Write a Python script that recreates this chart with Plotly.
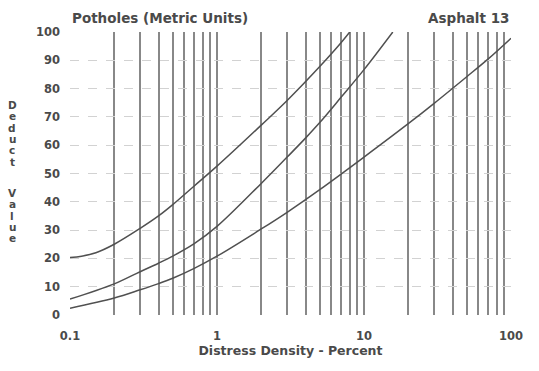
import plotly.graph_objects as go

# Data
h_x = [0.1, 0.12, 0.15, 0.2, 0.3, 0.4, 0.5, 0.7, 1, 2, 3, 5, 7, 8]
h_y = [20.3, 20.8, 22, 25, 30.6, 35, 39, 45.6, 52.6, 67.1, 75.8, 87.8, 96.3, 100]
m_x = [0.1, 0.2, 0.3, 0.4, 0.5, 0.7, 1, 2, 3, 4, 5, 7, 10, 15.7]
m_y = [5.6, 11, 15.3, 18.3, 20.8, 25.2, 31.3, 46.5, 55.8, 62.5, 68, 77, 86.7, 100]
l_x = [0.1, 0.2, 0.3, 0.4, 0.5, 0.7, 1, 2, 3, 5, 10, 20, 30, 50, 70, 100]
l_y = [2.4, 6, 8.9, 11.1, 13, 16.5, 20.8, 30.4, 36.3, 44.3, 55.8, 67.6, 74.8, 84.2, 90.5, 97.8]

x_labels = {0.1: "0.1", 1: "1", 10: "10", 100: "100"}
x_grid = [round(m * d, 4) for d in (0.1, 1, 10) for m in range(1, 10)] + [100]
y_ticks = list(range(0, 101, 10))

FONT = "DejaVu Sans"
TXT = "#4a4a4a"
LINE = "#505050"
GRID = "#888888"

fig = go.Figure()
for xs, ys in ((h_x, h_y), (m_x, m_y), (l_x, l_y)):
    fig.add_trace(go.Scatter(x=xs, y=ys, mode="lines",
                             line=dict(color=LINE, width=1.5, shape="spline", smoothing=1.0),
                             showlegend=False, hoverinfo="skip"))

fig.update_layout(
    width=539, height=371,
    margin=dict(l=70, r=28, t=32, b=56),
    paper_bgcolor="white", plot_bgcolor="white",
    font=dict(family=FONT, size=11, color=TXT, weight="bold"),
    showlegend=False,
)
fig.update_xaxes(
    type="log", range=[-1, 2],
    tickvals=x_grid, ticktext=[x_labels.get(v, "") for v in x_grid],
    showgrid=True, gridcolor=GRID, gridwidth=2,
    ticks="", showline=False, zeroline=False,
    ticklabelstandoff=12,
    tickfont=dict(family=FONT, size=11.5, color=TXT, weight="bold"),
    title=dict(text="Distress Density - Percent",
               font=dict(family=FONT, size=12.5, color=TXT, weight="bold"), standoff=2),
)
fig.update_yaxes(
    range=[0, 100], tickvals=y_ticks,
    showgrid=True, gridcolor="#d2d2d2", gridwidth=1, griddash="dash",
    ticks="", showline=False, zeroline=False,
    ticklabelstandoff=9,
    tickfont=dict(family=FONT, size=11.5, color=TXT, weight="bold"),
)

big = dict(family=FONT, size=13.5, color=TXT, weight="bold")
ann = [
    dict(text="Potholes (Metric Units)", xref="paper", yref="paper", x=0, y=1.015, xanchor="left", yanchor="bottom",
         showarrow=False, font=big),
    dict(text="Asphalt 13", xref="paper", yref="paper", x=1, y=1.015, xanchor="right", yanchor="bottom",
         showarrow=False, font=big),
    dict(text="H", x=0.92, y=107, xref="x", yref="y", showarrow=False, font=dict(family=FONT, size=12, color=TXT, weight="bold")),
    dict(text="M", x=1.21, y=107, xref="x", yref="y", showarrow=False, font=dict(family=FONT, size=12, color=TXT, weight="bold")),
    dict(text="L", x=2.06, y=98, xref="x", yref="y", showarrow=False, font=dict(family=FONT, size=12, color=TXT, weight="bold")),
]
# vertical stacked axis title
for word, y0 in (("Deduct", 105), ("Value", 193)):
    for i, ch in enumerate(word):
        ypix = y0 + i * 11.3
        ann.append(dict(text=ch, xref="paper", yref="paper", x=(12 - 70) / 441, y=(315 - ypix) / 283,
                        xanchor="center", yanchor="middle", showarrow=False,
                        font=dict(family=FONT, size=10.5, color=TXT, weight="bold")))
fig.update_layout(annotations=ann)

fig.write_html("out.html")
